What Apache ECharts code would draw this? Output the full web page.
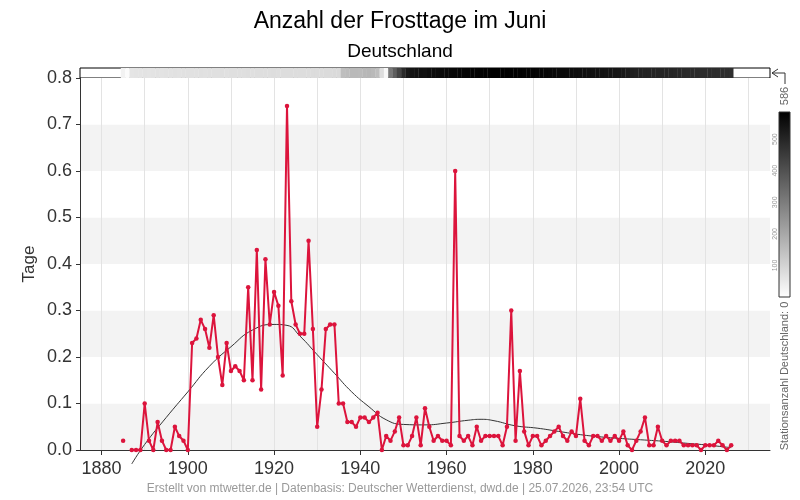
<!DOCTYPE html>
<html>
<head>
<meta charset="utf-8">
<script src="https://cdn.jsdelivr.net/npm/echarts@6/dist/echarts.min.js"></script>
<style>
  html, body { margin: 0; padding: 0; background: #fff; }
  #chart { width: 800px; height: 500px; }
</style>
</head>
<body>
<div id="chart"></div>
<script>
; (function () {

    /* ========== Daten: Frosttage im Juni, Deutschland ========== */

    var firstYear = 1885;

    // Jahresmittel der Frosttage (1886 fehlt)
    var frostDays = [
        0.02, null, 0, 0, 0, 0.1, 0.02, 0, 0.06, 0.02,          // 1885-1894
        0, 0, 0.05, 0.03, 0.02, 0, 0.23, 0.24, 0.28, 0.26,       // 1895-1904
        0.22, 0.29, 0.2, 0.14, 0.23, 0.17, 0.18, 0.17, 0.15, 0.35, // 1905-1914
        0.15, 0.43, 0.13, 0.41, 0.27, 0.34, 0.31, 0.16, 0.74, 0.32, // 1915-1924
        0.27, 0.25, 0.25, 0.45, 0.26, 0.05, 0.13, 0.26, 0.27, 0.27, // 1925-1934
        0.1, 0.1, 0.06, 0.06, 0.05, 0.07, 0.07, 0.06, 0.07, 0.08,  // 1935-1944
        0, 0.03, 0.02, 0.04, 0.07, 0.01, 0.01, 0.03, 0.07, 0.01,   // 1945-1954
        0.09, 0.05, 0.02, 0.03, 0.02, 0.02, 0.01, 0.6, 0.03, 0.02, // 1955-1964
        0.03, 0.01, 0.05, 0.02, 0.03, 0.03, 0.03, 0.03, 0.01, 0.05, // 1965-1974
        0.3, 0.02, 0.17, 0.04, 0.01, 0.03, 0.03, 0.01, 0.02, 0.03, // 1975-1984
        0.04, 0.05, 0.03, 0.02, 0.04, 0.03, 0.11, 0.02, 0.01, 0.03, // 1985-1994
        0.03, 0.02, 0.03, 0.02, 0.03, 0.02, 0.04, 0.01, 0, 0.02,   // 1995-2004
        0.04, 0.07, 0.01, 0.01, 0.05, 0.02, 0.01, 0.02, 0.02, 0.02, // 2005-2014
        0.01, 0.01, 0.01, 0.01, 0, 0.01, 0.01, 0.01, 0.02, 0.01,   // 2015-2024
        0, 0.01                                                   // 2025-2026
    ];

    // Anzahl der Stationen je Jahr (Graustufenleiste oben)
    var stationCount = [
        30, 10,                                                   // 1885-1886
        60, 62, 61, 64, 63, 65, 66, 64, 67, 66,                   // 1887-1896
        68, 67, 69, 70, 69, 70, 71, 70, 72, 71,                   // 1897-1906
        72, 73, 72, 73, 74, 73, 74, 75, 74, 75,                   // 1907-1916
        76, 75, 76, 77, 76, 77, 78, 77, 78, 79,                   // 1917-1926
        78, 79, 80, 80, 81, 82, 83, 84, 86,                       // 1927-1935
        150, 155, 160, 162, 158, 165, 168, 160, 150,              // 1936-1944
        75, 15, 310, 370, 430, 490,                               // 1945-1950
        530, 540, 545, 550, 548, 555, 558, 560, 562, 565,         // 1951-1960
        568, 570, 572, 575, 576, 578, 580, 582, 583, 584,         // 1961-1970
        585, 586, 586, 585, 584, 583, 582, 580, 578, 576,         // 1971-1980
        574, 572, 570, 568, 566, 564, 562, 560, 558, 556,         // 1981-1990
        554, 552, 550, 548, 546, 544, 542, 540, 538, 535,         // 1991-2000
        530, 525, 515, 510, 508, 506, 505, 504, 503, 502,         // 2001-2010
        500, 498, 496, 494, 492, 490, 488, 487, 486, 485,         // 2011-2020
        484, 483, 482, 481, 480, 479                              // 2021-2026
    ];
    var stationMax = 586;

    var trendYears = [1887, 1890, 1895, 1900, 1905, 1910, 1915, 1920, 1923, 1926,
        1930, 1934, 1938, 1942, 1946, 1950, 1955, 1960, 1965, 1968,
        1971, 1976, 1981, 1986, 1991, 1996, 2000, 2005, 2010, 2015, 2020, 2026];
    var trendValues = [-0.03, 0.012, 0.07, 0.125, 0.18, 0.222, 0.258, 0.27, 0.268, 0.245,
        0.205, 0.165, 0.125, 0.093, 0.065, 0.055, 0.054, 0.058, 0.064, 0.066,
        0.063, 0.052, 0.047, 0.04, 0.033, 0.028, 0.025, 0.022, 0.019, 0.015, 0.011, 0.005];

    var labelYears = [1880, 1900, 1920, 1940, 1960, 1980, 2000, 2020];
    var gridYears = [1880, 1890, 1900, 1910, 1920, 1930, 1940, 1950, 1960, 1970,
        1980, 1990, 2000, 2010, 2020, 2030];
    var colorbarTicks = [100, 200, 300, 400, 500];

    var statsText = 'Ø = 0.09 Tage\nσ = 0.09 Tage';
    var footerText = 'Erstellt von mtwetter.de | Datenbasis: Deutscher Wetterdienst, dwd.de | 25.07.2026, 23:54 UTC';

    /* ========== Daten fuer die Serien aufbereiten ========== */

    var frostData = frostDays.map(function (v, i) { return [firstYear + i, v]; });
    var trendData = trendYears.map(function (y, i) { return [y, trendValues[i]]; });
    var stationData = stationCount.map(function (c, i) { return [firstYear + i, 1, c]; });

    var fontFamily = '"Liberation Sans", Arial, sans-serif';

    // Farbleiste rechts
    var barTop = 112, barHeight = 185, barLeft = 779, barWidth = 11;
    var graphics = [
        {
            type: 'text', left: 90, top: 89,
            style: { text: statsText, fontSize: 14, lineHeight: 15, fill: '#333', fontFamily: fontFamily }
        },
        {
            type: 'polyline',
            shape: { points: [[778, 69], [772, 73], [778, 77]] },
            style: { stroke: '#333', lineWidth: 1, fill: null }
        },
        {
            type: 'polyline',
            shape: { points: [[772, 73], [785, 73], [785, 84]] },
            style: { stroke: '#333', lineWidth: 1, fill: null }
        },
        {
            type: 'rect',
            shape: { x: barLeft, y: barTop, width: barWidth, height: barHeight },
            style: {
                fill: new echarts.graphic.LinearGradient(0, 0, 0, 1, [
                    { offset: 0, color: '#000' },
                    { offset: 1, color: '#fff' }
                ]),
                stroke: '#333', lineWidth: 1
            }
        },
        {
            type: 'text', x: 785, y: 96, rotation: Math.PI / 2,
            style: { text: String(stationMax), fontSize: 11, fill: '#666', align: 'center', verticalAlign: 'middle', fontFamily: fontFamily }
        },
        {
            type: 'text', x: 785, y: 376, rotation: Math.PI / 2,
            style: { text: 'Stationsanzahl Deutschland: 0', fontSize: 11, fill: '#666', align: 'center', verticalAlign: 'middle', fontFamily: fontFamily }
        }
    ];
    colorbarTicks.forEach(function (t) {
        graphics.push({
            type: 'text', x: 775, y: barTop + barHeight - t / stationMax * barHeight, rotation: Math.PI / 2,
            style: { text: String(t), fontSize: 7, fill: '#999', align: 'center', verticalAlign: 'middle', fontFamily: fontFamily }
        });
    });

    /* ========== Diagramm ========== */

    var myChart = echarts.init(document.getElementById('chart'));

    var option = {
        animation: false,
        textStyle: { fontFamily: fontFamily },
        title: [
            {
                text: 'Anzahl der Frosttage im Juni',
                left: 'center', top: 10, padding: 0,
                textStyle: { fontSize: 23, fontWeight: 'normal', color: '#000' }
            },
            {
                text: 'Deutschland',
                left: 'center', top: 42, padding: 0,
                textStyle: { fontSize: 19, fontWeight: 'normal', color: '#000' }
            },
            {
                text: footerText,
                left: 'center', top: 483, padding: 0,
                textStyle: { fontSize: 12, fontWeight: 'normal', color: '#999' }
            }
        ],
        grid: [
            { left: 80, right: 30, top: 78, height: 372 },
            { left: 80, right: 30, top: 68, height: 10, show: true, borderColor: '#000', borderWidth: 1, backgroundColor: '#fff' }
        ],
        xAxis: [
            {
                type: 'value', gridIndex: 0, min: 1875, max: 2035,
                axisLine: { show: true, lineStyle: { color: '#333' } },
                axisTick: { show: false, customValues: gridYears },
                axisLabel: { show: false, customValues: gridYears },
                splitLine: { show: true, lineStyle: { color: '#e3e3e3', width: 1 } }
            },
            {
                type: 'value', gridIndex: 0, min: 1875, max: 2035, position: 'bottom',
                axisLine: { show: false },
                axisTick: { show: true, length: 5, customValues: labelYears, lineStyle: { color: '#333' } },
                axisLabel: {
                    customValues: labelYears, fontSize: 18, color: '#333', margin: 10,
                    formatter: function (v) { return String(v); }
                },
                splitLine: { show: false }
            },
            {
                type: 'value', gridIndex: 1, min: 1875, max: 2035, show: false
            }
        ],
        yAxis: [
            {
                type: 'value', gridIndex: 0, min: 0, max: 0.8, interval: 0.1,
                name: 'Tage', nameLocation: 'middle', nameGap: 42, nameMoveOverlap: false,
                nameTextStyle: { fontSize: 17, color: '#333' },
                axisLine: { show: true, lineStyle: { color: '#333' } },
                axisTick: { show: true, length: 4, lineStyle: { color: '#333' } },
                axisLabel: {
                    fontSize: 18, color: '#333', margin: 8,
                    formatter: function (v) { return v.toFixed(1); }
                },
                splitLine: { show: false },
                splitArea: { show: true, areaStyle: { color: ['#f3f3f3', '#ffffff'] } }
            },
            {
                type: 'value', gridIndex: 1, min: 0, max: 1, show: false
            }
        ],
        visualMap: {
            type: 'continuous', show: false,
            seriesIndex: 2, dimension: 2,
            min: 0, max: stationMax,
            inRange: { color: ['#ffffff', '#000000'] }
        },
        graphic: graphics,
        series: [
            {
                name: 'Trend',
                type: 'line',
                xAxisIndex: 0, yAxisIndex: 0,
                data: trendData,
                smooth: true,
                symbol: 'none',
                clip: false,
                silent: true,
                z: 3,
                lineStyle: { color: '#333', width: 1 }
            },
            {
                name: 'Frosttage',
                type: 'line',
                xAxisIndex: 0, yAxisIndex: 0,
                data: frostData,
                connectNulls: false,
                symbol: 'circle',
                symbolSize: 4.5,
                showSymbol: true,
                z: 4,
                itemStyle: { color: '#dc143c' },
                lineStyle: { color: '#dc143c', width: 2 }
            },
            {
                name: 'Stationen',
                type: 'bar',
                xAxisIndex: 2, yAxisIndex: 1,
                data: stationData,
                barWidth: 4.6,
                silent: true
            }
        ]
    };

    myChart.setOption(option);
}());
</script>
</body>
</html>
